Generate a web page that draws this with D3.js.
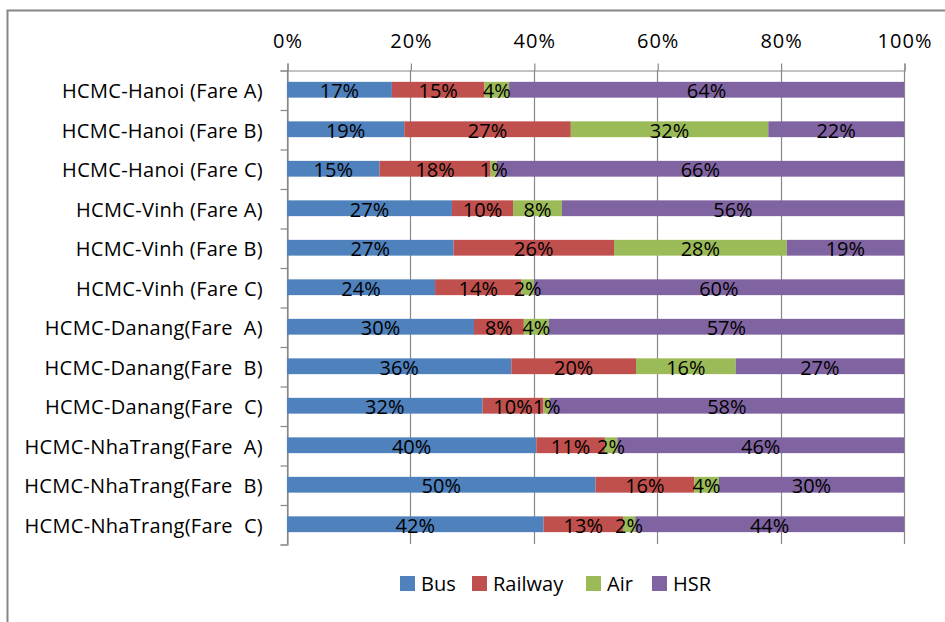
<!DOCTYPE html>
<html>
<head>
<meta charset="utf-8">
<script src="https://cdn.jsdelivr.net/npm/d3@7"></script>
<style>
  body { margin: 0; background: #fff; }
  text { font-family: "Open Sans", sans-serif; fill: #000; }
</style>
</head>
<body>
<div id="chart"></div>
<script>
// Categories and series values (percent shares)
const categories = [
  "HCMC-Hanoi (Fare A)",
  "HCMC-Hanoi (Fare B)",
  "HCMC-Hanoi (Fare C)",
  "HCMC-Vinh (Fare A)",
  "HCMC-Vinh (Fare B)",
  "HCMC-Vinh (Fare C)",
  "HCMC-Danang(Fare  A)",
  "HCMC-Danang(Fare  B)",
  "HCMC-Danang(Fare  C)",
  "HCMC-NhaTrang(Fare  A)",
  "HCMC-NhaTrang(Fare  B)",
  "HCMC-NhaTrang(Fare  C)"
];
const seriesNames = ["Bus", "Railway", "Air", "HSR"];
const bus     = [17, 19, 15, 27, 27, 24, 30, 36, 32, 40, 50, 42];
const railway = [15, 27, 18, 10, 26, 14,  8, 20, 10, 11, 16, 13];
const air     = [ 4, 32,  1,  8, 28,  2,  4, 16,  1,  2,  4,  2];
const hsr     = [64, 22, 66, 56, 19, 60, 57, 27, 58, 46, 30, 44];
const xTicks  = [0, 0.2, 0.4, 0.6, 0.8, 1];
const colors  = ["#4f81bd", "#c0504d", "#9bbb59", "#8064a2"];

const width = 945, height = 622;
const margin = { top: 70, bottom: 78, left: 287, right: 41 };

const rows = categories.map((c, i) => ({
  cat: c, Bus: bus[i], Railway: railway[i], Air: air[i], HSR: hsr[i]
}));

const svg = d3.select("#chart").append("svg")
  .attr("width", width)
  .attr("height", height);

// chart border (only left and top edges fall inside the picture)
svg.append("rect")
  .attr("x", 7.5).attr("y", 10.5)
  .attr("width", 960).attr("height", 640)
  .attr("fill", "none")
  .attr("stroke", "#868686")
  .attr("stroke-width", 2);

const x = d3.scaleLinear()
  .domain([0, 1])
  .range([margin.left, width - margin.right]);

const y = d3.scaleBand()
  .domain(categories)
  .range([margin.top, height - margin.bottom])
  .paddingInner(0.6)
  .paddingOuter(0.3);

const color = d3.scaleOrdinal().domain(seriesNames).range(colors);

// vertical gridlines
svg.append("g")
  .selectAll("line")
  .data(xTicks)
  .join("line")
  .attr("x1", d => Math.round(x(d)) + 0.5)
  .attr("x2", d => Math.round(x(d)) + 0.5)
  .attr("y1", margin.top)
  .attr("y2", height - margin.bottom)
  .attr("stroke", "#888")
  .attr("stroke-width", 1.2);

// top axis
const xAxis = svg.append("g")
  .attr("transform", `translate(0.5, ${margin.top + 0.5})`)
  .call(d3.axisTop(x).tickValues(xTicks).tickFormat(d3.format(".0%")).tickSize(7).tickPadding(16));
xAxis.select(".domain").attr("stroke", "#888").attr("stroke-width", 1.2);
xAxis.selectAll(".tick line").attr("stroke", "#888").attr("stroke-width", 1.2);
xAxis.selectAll(".tick text")
  .style("font-size", "20px")
  .style("letter-spacing", "1px")
  .style("font-family", "'Open Sans', sans-serif")
  .attr("fill", "#000");

// left axis: ticks sit between categories
const yEdge = d3.scaleLinear()
  .domain([0, categories.length])
  .range([margin.top, height - margin.bottom]);
const yAxis = svg.append("g")
  .attr("transform", `translate(${margin.left + 0.5}, 0.5)`)
  .call(d3.axisLeft(yEdge).tickValues(d3.range(categories.length + 1)).tickFormat("").tickSize(7));
yAxis.select(".domain").attr("stroke", "#888").attr("stroke-width", 1.2);
yAxis.selectAll(".tick line").attr("stroke", "#888").attr("stroke-width", 1.2);

// category labels
svg.append("g")
  .selectAll("text")
  .data(categories)
  .join("text")
  .attr("x", 263)
  .attr("y", d => y(d) + y.bandwidth() / 2)
  .attr("dy", "0.43em")
  .attr("text-anchor", "end")
  .style("white-space", "pre")
  .style("font-size", "20px")
  .style("letter-spacing", "0.3px")
  .text(d => d);

// stacked, normalised to 100%
const stack = d3.stack().keys(seriesNames).offset(d3.stackOffsetExpand);
const series = stack(rows);

const layers = svg.append("g")
  .selectAll("g")
  .data(series)
  .join("g")
  .attr("fill", d => color(d.key));

layers.selectAll("rect")
  .data(d => d)
  .join("rect")
  .attr("x", d => x(d[0]))
  .attr("y", d => y(d.data.cat))
  .attr("width", d => x(d[1]) - x(d[0]))
  .attr("height", y.bandwidth());

// data labels
const labels = svg.append("g");
series.forEach(s => {
  labels.selectAll(null)
    .data(s)
    .join("text")
    .attr("x", d => (x(d[0]) + x(d[1])) / 2)
    .attr("y", d => y(d.data.cat) + y.bandwidth() / 2)
    .attr("dy", "0.43em")
    .attr("text-anchor", "middle")
    .style("font-size", "20px")
    .text(d => d.data[s.key] + "%");
});

// legend
const legendX = [400, 472, 586, 652];
const legend = svg.append("g");
seriesNames.forEach((name, i) => {
  legend.append("rect")
    .attr("x", legendX[i])
    .attr("y", 576)
    .attr("width", 15)
    .attr("height", 15)
    .attr("fill", color(name));
  legend.append("text")
    .attr("x", legendX[i] + 21)
    .attr("y", 583.5)
    .attr("dy", "0.38em")
    .style("font-size", "20px")
    .text(name);
});
</script>
</body>
</html>
